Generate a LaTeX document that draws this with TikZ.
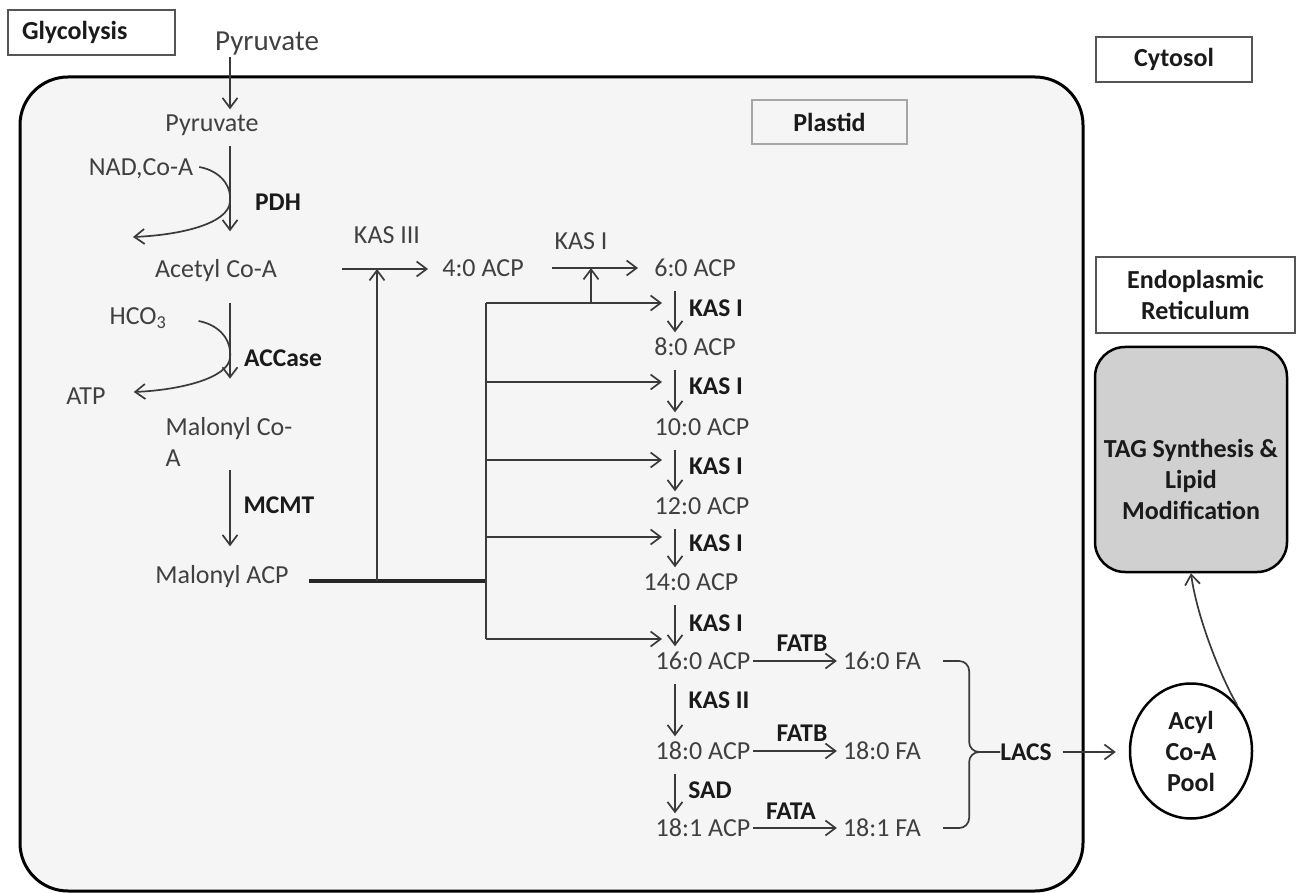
\documentclass[tikz,border=0pt]{standalone}
\usepackage{fontspec}
\setmainfont{Carlito}
\usetikzlibrary{arrows.meta,shapes.geometric,calc}
\definecolor{txtc}{HTML}{404040}
\definecolor{lblc}{HTML}{1A1A1A}
\definecolor{linec}{HTML}{3A3A3A}
\definecolor{plast}{HTML}{F5F5F5}
\definecolor{tagc}{HTML}{D0D0D0}
\definecolor{boxl}{HTML}{555555}
\newcommand\myfs{\fontsize{26}{31}\selectfont}
\newcommand\mylfs{\fontsize{25.5}{31}\selectfont}
\begin{document}
\begin{tikzpicture}[x=1pt,y=-1pt,
  txt/.style={text=txtc, font=\myfs, inner sep=0pt, text height=20pt, text depth=3pt},
  txtml/.style={text=txtc, font=\myfs, inner sep=0pt},
  lbl/.style={txt, text=lblc, font=\mylfs\bfseries},
  box/.style={draw=boxl, line width=1.5pt, fill=white, text=lblc, font=\myfs\bfseries, inner sep=0pt, align=center},
  arr/.style={draw=linec, line width=1.7pt, -{Straight Barb[length=10pt,width=15pt]}},
  ln/.style={draw=linec, line width=1.7pt},
  thk/.style={draw=black!85, line width=4pt},
]
\useasboundingbox (0,0) rectangle (1296,893);
\fill[white] (0,0) rectangle (1296,893);

% compartments
\node[draw=black, line width=3pt, fill=plast, rounded corners=48pt, minimum width=1063pt, minimum height=814pt, inner sep=0pt] (plastid) at (551.5,484) {};
\node[box, minimum width=167pt, minimum height=45pt, text width=139pt, align=left] (glyc) at (91.5,32.5) {Glycolysis};
\node[box, draw=black!35, fill=plast, minimum width=155pt, minimum height=44pt] (plab) at (829.5,122) {Plastid};
\node[box, minimum width=156pt, minimum height=45pt] (cyto) at (1174,59.5) {Cytosol};
\node[box, minimum width=199pt, minimum height=76pt] (er) at (1195.5,295) {Endoplasmic\\Reticulum};
\node[box, draw=black, line width=2.5pt, fill=tagc, rounded corners=30pt, minimum width=192pt, minimum height=225pt] (tag) at (1191,459.5) {\rule{0pt}{58pt}TAG Synthesis \&\\Lipid\\Modification};
\node[box, draw=black, line width=2.5pt, ellipse, minimum width=122pt, minimum height=135pt] (pool) at (1191,751) {Acyl\\Co-A\\Pool};

% metabolites and enzymes
\node[txt, font=\fontsize{29}{34}\selectfont, text height=22pt, text depth=3pt] (pyr1) at (267,41) {Pyruvate};
\node[txt] (pyr2) at (212,123) {Pyruvate};
\node[txt] (nad) at (141,167) {NAD,Co-A};
\node[lbl] (pdh) at (278,202) {PDH};
\node[txt] (acetyl) at (216,269) {Acetyl Co-A};
\node[txt] (hco3) at (138,316) {HCO\textsubscript{3}};
\node[lbl] (accase) at (283,358) {ACCase};
\node[txt] (atp) at (86,396) {ATP};
\node[txtml, align=left] (malcoa) at (229,442) {Malonyl Co-\\A};
\node[lbl] (mcmt) at (279,505) {MCMT};
\node[txt] (malacp) at (222,575) {Malonyl ACP};
\node[txt] (kas3) at (387,235) {KAS III};
\node[txt] (acp4) at (483,268) {4:0 ACP};
\node[txt] (kas1t) at (581,241) {KAS I};
\node[txt] (acp6) at (695,268) {6:0 ACP};
\node[txt] (acp8) at (695,347) {8:0 ACP};
\node[txt] (acp10) at (702,427) {10:0 ACP};
\node[txt] (acp12) at (702,506) {12:0 ACP};
\node[txt] (acp14) at (691,582) {14:0 ACP};
\node[txt] (acp16) at (703,661) {16:0 ACP};
\node[txt] (acp18) at (703,751) {18:0 ACP};
\node[txt] (acp181) at (703,828) {18:1 ACP};
\node[txt] (fa16) at (882,661) {16:0 FA};
\node[txt] (fa18) at (882,751) {18:0 FA};
\node[txt] (fa181) at (882,828) {18:1 FA};
\node[lbl] (kasa) at (716,308) {KAS I};
\node[lbl] (kasb) at (716,386) {KAS I};
\node[lbl] (kasc) at (716,466) {KAS I};
\node[lbl] (kasd) at (716,543) {KAS I};
\node[lbl] (kase) at (716,623) {KAS I};
\node[lbl] (kas2) at (719,700) {KAS II};
\node[lbl] (sad) at (710,790) {SAD};
\node[lbl] (fatb1) at (802,643) {FATB};
\node[lbl] (fatb2) at (802,733) {FATB};
\node[lbl] (fata) at (791,811) {FATA};
\node[lbl] (lacs) at (1026,752) {LACS};

% helper coordinates
\coordinate (ax) at (230,0);
\coordinate (axr) at (675,0);
\coordinate (tip) at (662,0);
\coordinate (j1) at (377,581);
\coordinate (j2) at (486,581);
\coordinate (k1) at (591,303);
\coordinate (b1) at (486,303);
\coordinate (b2) at (486,382);
\coordinate (b3) at (486,460);
\coordinate (b4) at (486,537);
\coordinate (b5) at (486,639);
\coordinate (nadout) at (133,237);

% left column
\draw[arr, shorten <=3.5pt, shorten >=2pt] (pyr1.south -| ax) -- (pyr2.north -| ax);
\draw[arr, shorten <=11pt, shorten >=26pt] (pyr2.south -| ax) -- (acetyl.north -| ax);
\draw[arr] (nad.east) ++(6,0) .. controls +(22,4) and +(2,-15) .. (ax |- pdh) .. controls +(-2,22) and +(47,-2) .. (nadout);
\draw[arr] (acetyl.south -| ax) ++(0,22) -- ++(0,76);
\draw[arr] (hco3.east) ++(32,5) .. controls +(21,4) and +(2,-18) .. (ax |- accase) .. controls +(-2,20) and +(47,-2) .. ($(atp.east)+(28,-4)$);
\draw[arr, shorten >=17pt] (mcmt -| ax) ++(0,-35) -- (malacp.north -| ax);

% malonyl ACP feed
\draw[thk] (malacp.east |- j2) ++(20,0) -- (j2);
\draw[arr] (j1) -- (j1 |- acetyl);
\draw[arr] (j1 |- acetyl) ++(-35,0) -- ++(86,0);
\draw[arr] (k1) -- (k1 |- acp6);
\draw[arr] (k1 |- acp6) ++(-39,0) -- ++(86,0);
\draw[ln] (b1) -- (b5);
\foreach \b in {b1,b2,b3,b4,b5} \draw[arr] (\b) -- (\b -| tip);

% elongation column
\foreach \a/\c in {acp6/acp8,acp8/acp10,acp10/acp12,acp12/acp14,acp14/acp16,acp16/acp18,acp18/acp181}
  \draw[arr, shorten <=11pt, shorten >=3pt] (\a.south -| axr) -- (\c.north -| axr);

% thioesterases
\draw[arr, shorten <=3pt, shorten >=6pt] (acp16) -- (fa16);
\draw[arr, shorten <=3pt, shorten >=6pt] (acp18) -- (fa18);
\draw[arr, shorten <=3pt, shorten >=6pt] (acp181) -- (fa181);

% brace to LACS
\draw[ln, rounded corners=10pt] (fa16.east) ++(22,0) -- ++(26,0) |- (lacs.west);
\draw[ln, rounded corners=10pt] (fa181.east) ++(22,0) -- ++(26,0) |- (lacs.west);

% export
\draw[arr, shorten <=11pt, shorten >=13pt] (lacs) -- (lacs -| pool.west);
\draw[arr] (pool.45) .. controls +(-15,-25) and +(6,45) .. (tag.south);
\end{tikzpicture}
\end{document}
